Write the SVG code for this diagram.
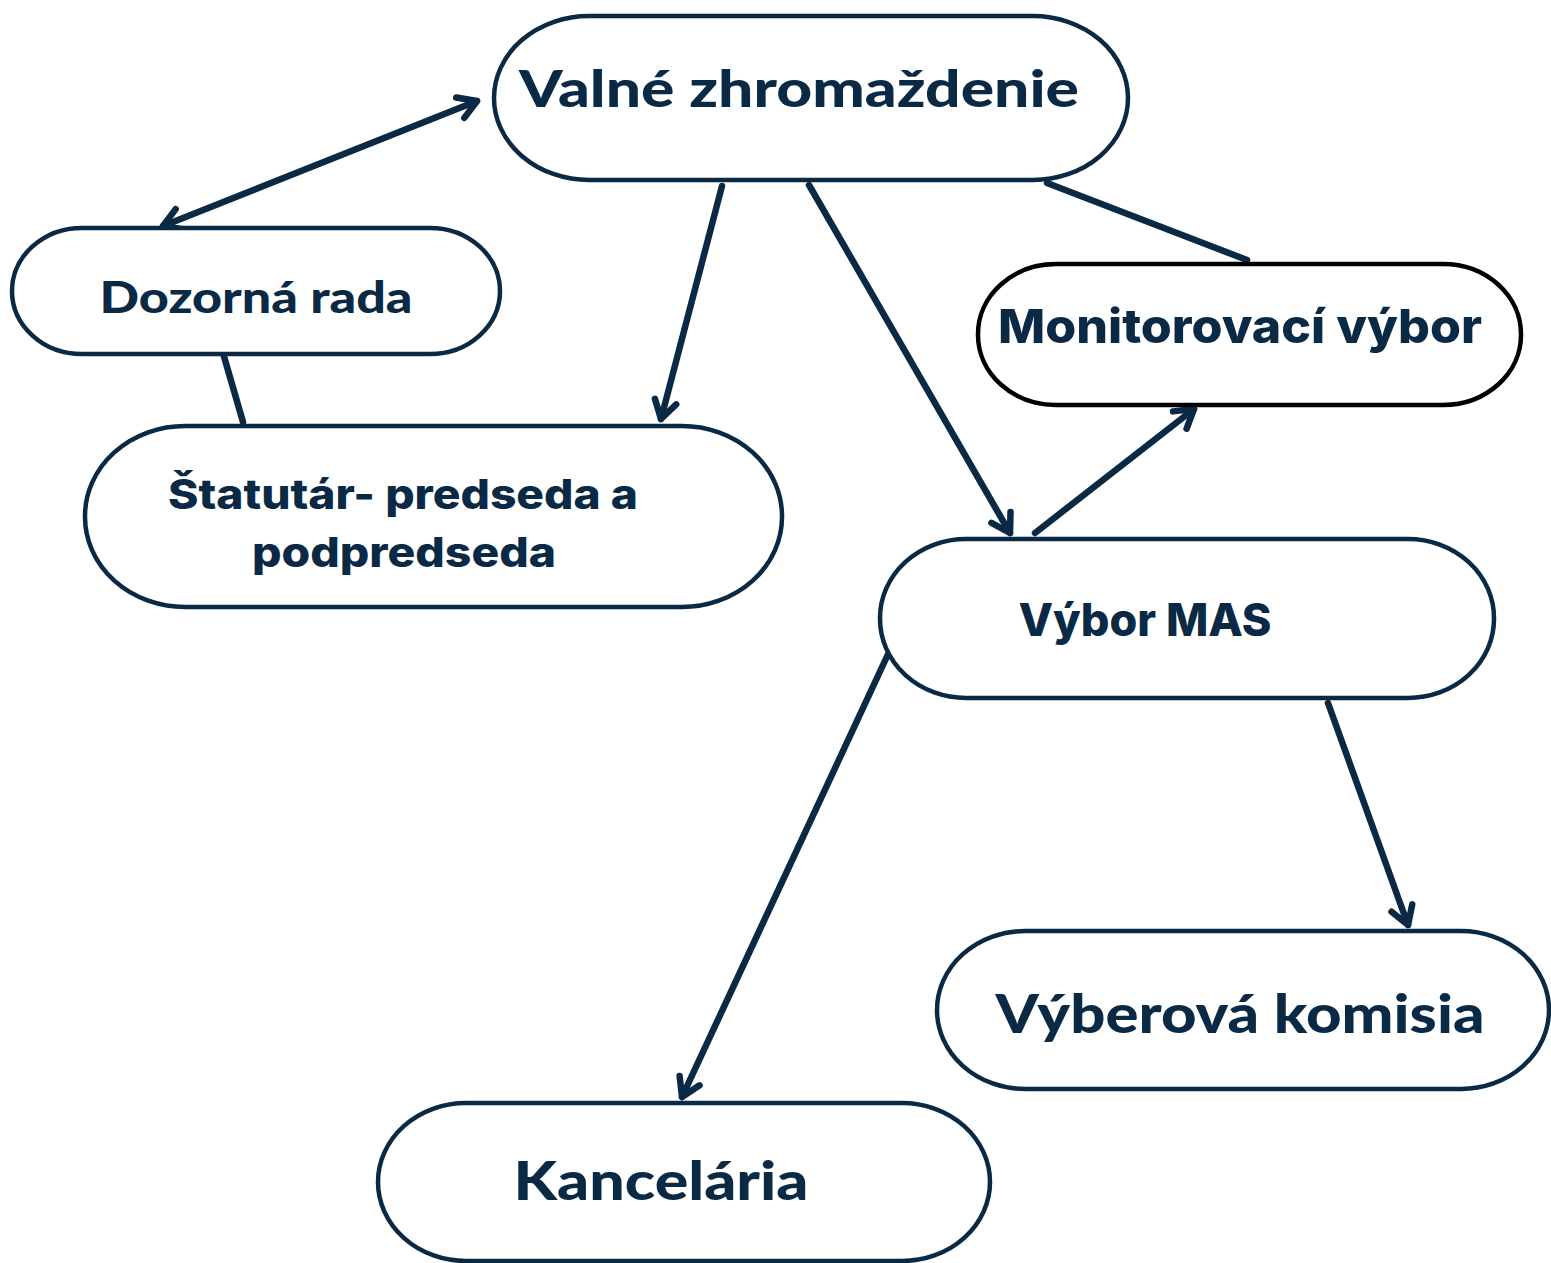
<svg xmlns="http://www.w3.org/2000/svg" width="1551" height="1263" viewBox="0 0 1551 1263">
<defs>
<style>
.node{fill:#ffffff;stroke:#0a2945;stroke-width:4.5}
.blk{stroke:#000000}
.t{fill:#0a2945;font-family:"Inter","Noto Sans","Liberation Sans",sans-serif;font-weight:800;text-anchor:middle}
.g{fill:#0a2945;font-family:"Lato","Noto Sans","Liberation Sans",sans-serif;font-weight:900;text-anchor:middle}
.c{stroke:#0a2945;stroke-width:6.5;fill:none;stroke-linecap:round}
</style>
<marker id="ah" markerUnits="userSpaceOnUse" viewBox="-26 -16 30 32" refX="0" refY="0" markerWidth="30" markerHeight="32" orient="auto-start-reverse">
<path d="M-18,-11 L0,0 L-18,11" fill="none" stroke="#0a2945" stroke-width="6.5" stroke-linecap="round" stroke-linejoin="round"/>
</marker>
</defs>
<rect width="1551" height="1263" fill="#ffffff"/>
<g id="connectors">
<line class="c" x1="477" y1="101" x2="163" y2="226" marker-start="url(#ah)" marker-end="url(#ah)"/>
<line class="c" x1="722" y1="186" x2="661" y2="419" marker-end="url(#ah)"/>
<line class="c" x1="809" y1="185" x2="1010" y2="533" marker-end="url(#ah)"/>
<line class="c" x1="1047" y1="183" x2="1247" y2="260"/>
<line class="c" x1="223" y1="353" x2="243" y2="422"/>
<line class="c" x1="1035" y1="533" x2="1194" y2="409" marker-end="url(#ah)"/>
<line class="c" x1="890" y1="650" x2="682" y2="1097" marker-end="url(#ah)"/>
<line class="c" x1="1328" y1="703" x2="1408" y2="925" marker-end="url(#ah)"/>
</g>
<g id="valne">
<rect class="node" x="494" y="16" width="634" height="164" rx="95" ry="82"/>
<text class="g" x="799" y="107" font-size="52" textLength="560" lengthAdjust="spacingAndGlyphs">Valné zhromaždenie</text>
</g>
<g id="dozorna">
<rect class="node" x="12" y="228" width="488" height="126" rx="70" ry="63" stroke-width="3.5"/>
<text class="g" x="256" y="313" font-size="44" textLength="313" lengthAdjust="spacingAndGlyphs">Dozorná rada</text>
</g>
<g id="statutar">
<rect class="node" x="85" y="426" width="697" height="181" rx="100" ry="90" stroke-width="5"/>
<text class="t" x="403" y="509" font-size="41" textLength="470" lengthAdjust="spacingAndGlyphs">Štatutár- predseda a</text>
<text class="t" x="404" y="567" font-size="41" textLength="304" lengthAdjust="spacingAndGlyphs">podpredseda</text>
</g>
<g id="monitorovaci">
<rect class="node blk" x="978" y="264" width="543" height="141" rx="78" ry="70"/>
<text class="t" x="1240" y="343" font-size="47" textLength="484" lengthAdjust="spacingAndGlyphs">Monitorovací výbor</text>
</g>
<g id="vybor-mas">
<rect class="node" x="880" y="539" width="614" height="159" rx="86" ry="79" stroke-width="5"/>
<text class="t" x="1145" y="636" font-size="45" textLength="253" lengthAdjust="spacingAndGlyphs">Výbor MAS</text>
</g>
<g id="vyberova">
<rect class="node" x="937" y="931" width="612" height="158" rx="88" ry="79" stroke-width="5"/>
<text class="g" x="1240" y="1033" font-size="54" textLength="489" lengthAdjust="spacingAndGlyphs">Výberová komisia</text>
</g>
<g id="kancelaria">
<rect class="node" x="378" y="1103" width="612" height="158" rx="88" ry="79" stroke-width="5"/>
<text class="g" x="661" y="1200" font-size="54" textLength="295" lengthAdjust="spacingAndGlyphs">Kancelária</text>
</g>
</svg>
